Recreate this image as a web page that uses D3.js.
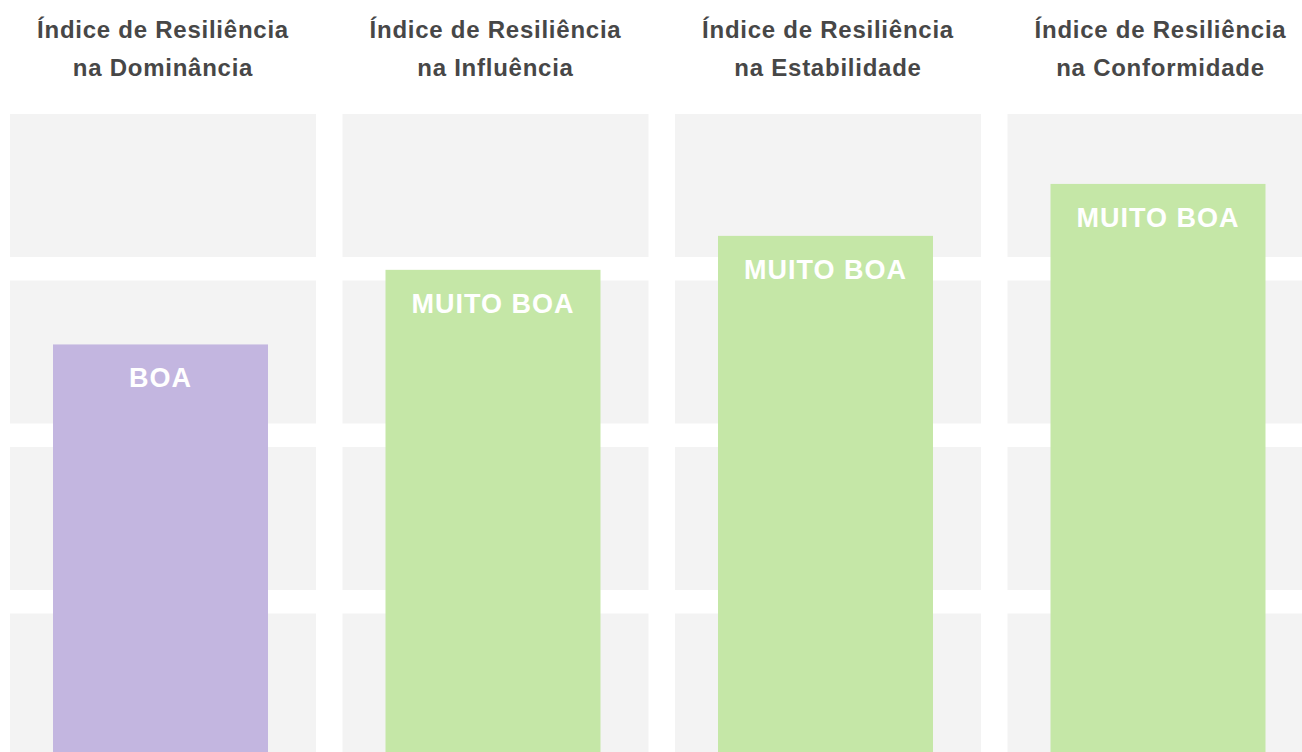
<!DOCTYPE html>
<html>
<head>
<meta charset="utf-8">
<script src="https://cdn.jsdelivr.net/npm/d3@7"></script>
<style>
	body { margin: 0; background: #fff; }
	svg { display: block; }
</style>
</head>
<body>
<script>
// data (0..100 index scale)
let categories = 	['Dominância', 'Influência', 'Estabilidade', 'Conformidade']
let values = 		[65.4, 76.6, 81.7, 89.5]
let ratings = 		['BOA', 'MUITO BOA', 'MUITO BOA', 'MUITO BOA']
let rowTicks = 		[0, 25, 50, 75]

let W = 1302, H = 752

let COL = {
	'BOA': 			'#c3b6e0',
	'MUITO BOA': 	'#c5e7a7'
}

let svg = d3.select('body').append('svg')
	.attr('width', W)
	.attr('height', H)

let x = d3.scaleBand()
	.domain(categories)
	.range([10, 1313.5])
	.paddingInner(0.0797)
	.paddingOuter(0)

let y = d3.scaleLinear()
	.domain([0, 100])
	.range([780, 114])

let rowGap = 23.5
let barW = 215
let barOff = 43

// grey background cells
categories.forEach(function(c) {
	svg.selectAll(null).data(rowTicks).enter().append('rect')
		.attr('x', x(c))
		.attr('width', x.bandwidth())
		.attr('y', d => y(d + 25))
		.attr('height', d => y(d) - y(d + 25) - rowGap)
		.attr('fill', '#f3f3f3')
})

// bars
svg.selectAll('.bar').data(categories).enter().append('rect')
	.attr('class', 'bar')
	.attr('x', c => x(c) + barOff)
	.attr('width', barW)
	.attr('y', (c, i) => y(values[i]))
	.attr('height', (c, i) => y(0) - y(values[i]))
	.attr('fill', (c, i) => COL[ratings[i]])

// labels inside bars
svg.selectAll('.lbl').data(categories).enter().append('text')
	.attr('class', 'lbl')
	.attr('x', c => x(c) + barOff + barW / 2)
	.attr('y', (c, i) => y(values[i]) + 43)
	.attr('text-anchor', 'middle')
	.style('font-family', 'Liberation Sans, Arial, sans-serif')
	.style('font-weight', 'bold')
	.style('font-size', '27px')
	.style('letter-spacing', '1px')
	.style('fill', '#ffffff')
	.text((c, i) => ratings[i])

// panel titles
let titles = svg.selectAll('.ttl').data(categories).enter().append('text')
	.attr('class', 'ttl')
	.attr('text-anchor', 'middle')
	.style('font-family', 'Liberation Sans, Arial, sans-serif')
	.style('font-weight', 'bold')
	.style('font-size', '24px')
	.style('letter-spacing', '0.75px')
	.style('fill', '#474747')

titles.append('tspan')
	.attr('x', c => x(c) + x.bandwidth() / 2)
	.attr('y', 38)
	.text('Índice de Resiliência')
titles.append('tspan')
	.attr('x', c => x(c) + x.bandwidth() / 2)
	.attr('y', 76)
	.text(c => 'na ' + c)
</script>
</body>
</html>
